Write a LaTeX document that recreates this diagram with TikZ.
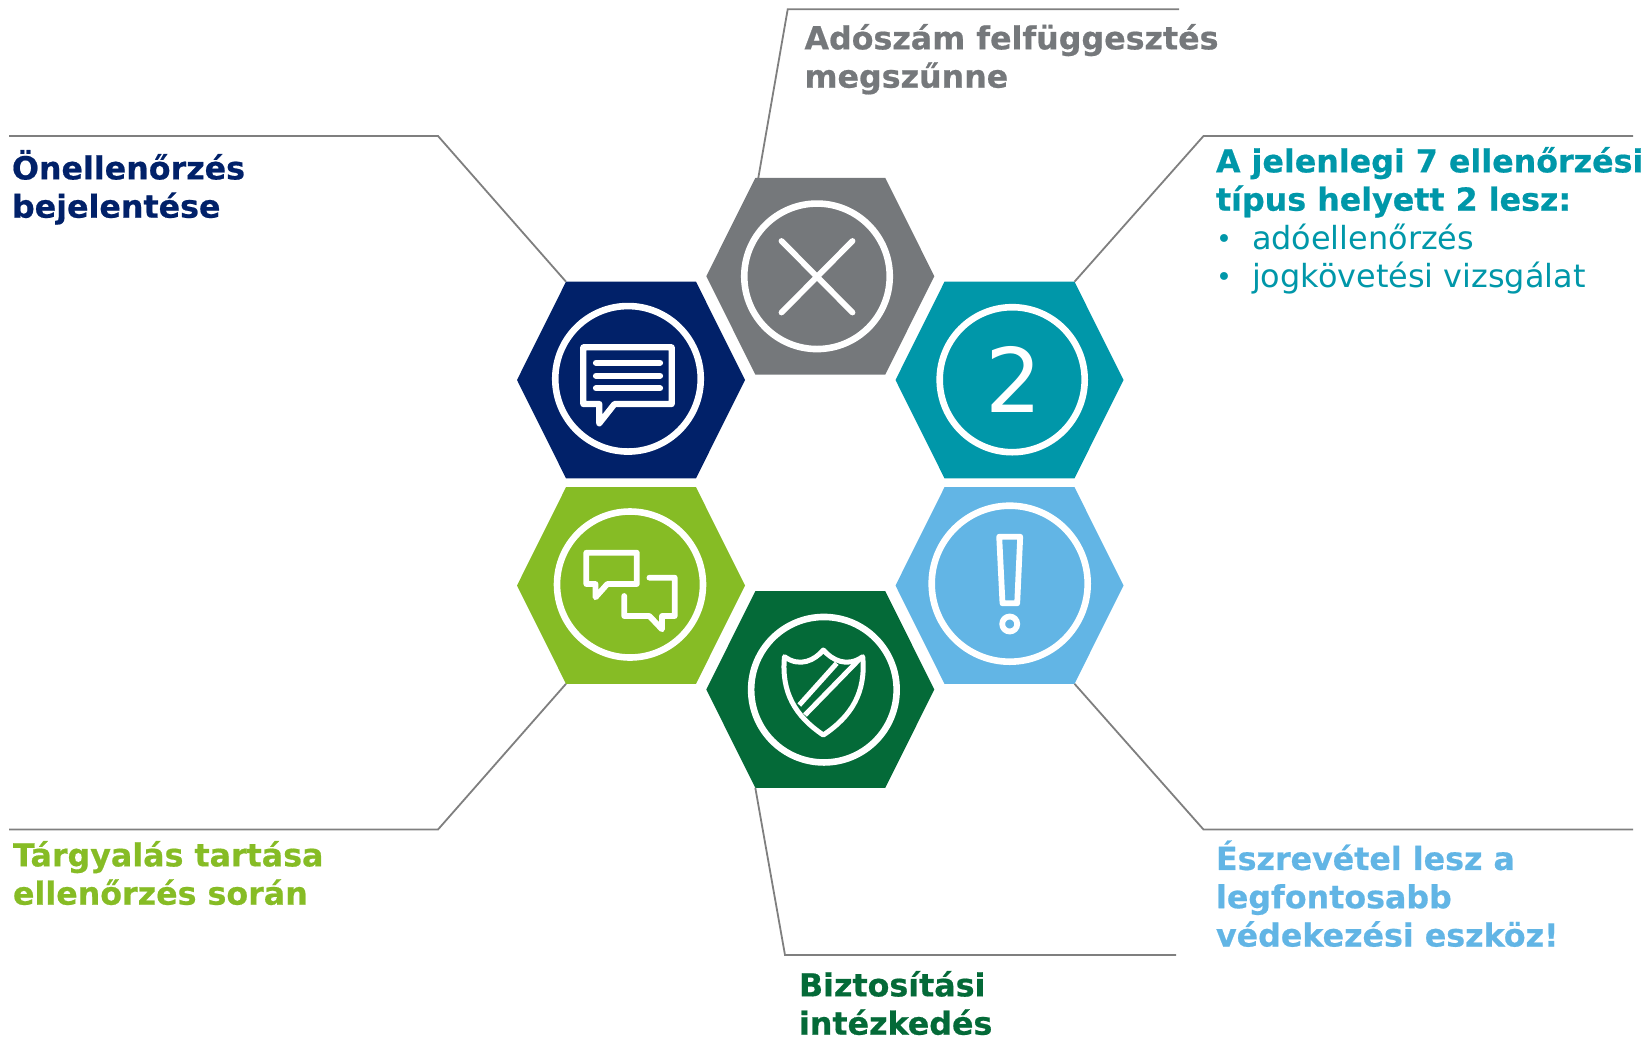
\documentclass[tikz,border=0pt]{standalone}
\usepackage{fontspec}
\setmainfont{DejaVu Sans}[BoldFeatures={FakeBold=0.6}]
\definecolor{cnavy}{HTML}{012169}
\definecolor{cgray}{HTML}{75787B}
\definecolor{cteal}{HTML}{0097A9}
\definecolor{csky}{HTML}{62B5E5}
\definecolor{clime}{HTML}{86BC25}
\definecolor{cforest}{HTML}{046A38}
\definecolor{cline}{HTML}{7F7F7F}
\tikzset{
  leader/.style={draw=cline,line width=1.8pt,line join=miter},
  ring/.style={draw=white,line width=6.6pt},
  icon/.style={draw=white,line width=5.8pt,line cap=round,line join=round},
  label/.style={anchor=north west,inner sep=0pt,outer sep=0pt,align=left,font=\fontsize{31.7}{38.3}\selectfont},
}
\newcommand{\hexa}[4]{%
  \coordinate (#1) at (#2,#3);
  \coordinate (#1-tl) at ($(#1)+(-65,-98.3)$);
  \coordinate (#1-tr) at ($(#1)+(65,-98.3)$);
  \coordinate (#1-bl) at ($(#1)+(-65,98.3)$);
  \coordinate (#1-br) at ($(#1)+(65,98.3)$);
  \fill[#4] (#1-tl) -- (#1-tr) -- ($(#1)+(114,0)$) -- (#1-br) -- (#1-bl) -- ($(#1)+(-114,0)$) -- cycle;
}
\newcommand{\blt}{\makebox[36pt][l]{\raisebox{1.5pt}{\fontsize{27}{27}\selectfont •}}}
\usetikzlibrary{calc}
\begin{document}
\begin{tikzpicture}[x=1pt,y=-1pt]
\useasboundingbox (0,0) rectangle (1651,1037);
% hexagons
\hexa{hnavy}{631}{380}{cnavy}
\hexa{hgray}{820.3}{276.2}{cgray}
\hexa{hteal}{1009.5}{380}{cteal}
\hexa{hlime}{631}{585.5}{clime}
\hexa{hsky}{1009.5}{585.5}{csky}
\hexa{hforest}{820.3}{689.5}{cforest}
% rings
\node[circle,ring,minimum size=145.5pt,inner sep=0pt] (rnavy) at (628,378.8) {};
\node[circle,ring,minimum size=145.5pt,inner sep=0pt] (rgray) at (817,276.3) {};
\node[circle,ring,minimum size=145pt,inner sep=0pt] (rteal) at (1012.2,379.7) {};
\node[circle,ring,minimum size=146pt,inner sep=0pt] (rlime) at (630,584.5) {};
\node[circle,ring,minimum size=156pt,inner sep=0pt] (rsky) at (1009.7,583.7) {};
\node[circle,ring,minimum size=145.5pt,inner sep=0pt] (rforest) at (823.9,689.7) {};
% leaders
\coordinate (e1a) at (787.7,9.3); \coordinate (e1b) at (1179,9.3);
\coordinate (e2a) at (438,136); \coordinate (e2b) at (9,136);
\coordinate (e3a) at (1203.5,136); \coordinate (e3b) at (1633,136);
\coordinate (e4a) at (438,829.5); \coordinate (e4b) at (9,829.5);
\coordinate (e5a) at (1203.5,829.5); \coordinate (e5b) at (1633,829.5);
\coordinate (e6a) at (785,955); \coordinate (e6b) at (1176,955);
\draw[leader] (hgray-tl)+(3,0) -- (e1a) -- (e1b);
\draw[leader] (hnavy-tl) -- (e2a) -- (e2b);
\draw[leader] (hteal-tr) -- (e3a) -- (e3b);
\draw[leader] (hlime-bl) -- (e4a) -- (e4b);
\draw[leader] (hsky-br) -- (e5a) -- (e5b);
\draw[leader] (hforest-bl) -- (e6a) -- (e6b);
% X icon
\draw[icon] (781.5,241) -- (852.5,312.5) (852.5,241) -- (781.5,312.5);
% speech bubble
\draw[icon,line width=6.2pt] (583.3,347.3) -- (671.7,347.3) -- (671.7,404) -- (614.5,404) -- (599.3,423.3) -- (599.3,404) -- (583.3,404) -- cycle;
\draw[icon,line width=6.2pt] (596,362.7) -- (660,362.7) (596,375.7) -- (660,375.7) (596,388.3) -- (660,388.3);
% two
\node[inner sep=0pt,text=white,font=\fontsize{89}{89}\selectfont] (two) at (1014,379.5) {2};
% dialogue
\draw[icon] (586.3,552.7) -- (636.8,552.7) -- (636.8,584) -- (607.3,584) -- (595.5,597.3) -- (595.5,584) -- (586.3,584) -- cycle;
\draw[icon] (649.4,577.7) -- (674.7,577.7) -- (674.7,616) -- (662,616) -- (662,629.3) -- (649.4,616) -- (624.2,616) -- (624.2,596);
% exclamation
\draw[icon] (999.2,536.7) -- (1020.2,536.7) -- (1017.2,603.3) -- (1002.5,603.3) -- cycle;
\draw[icon] (1009.7,624) circle (7.5);
% shield
\draw[icon,line width=5pt] (823.3,650) .. controls (815,660) and (800,668) .. (784.5,656.7)
  .. controls (781,692) and (795,716) .. (823.3,735)
  .. controls (852,716) and (866,692) .. (862.7,656.7)
  .. controls (847,668) and (832,660) .. (823.3,650) -- cycle;
\draw[icon,line width=5pt,line cap=butt] (836.7,663.3) -- (799.3,705) (859.3,659.3) -- (805,715);
% labels
\node[label,text=cgray] (t1) at (804.5,24) {\bfseries Adószám felfüggesztés\\\bfseries megszűnne};
\node[label,text=cnavy] (t2) at (12,150) {\bfseries Önellenőrzés\\\bfseries bejelentése};
\node[label,text=cteal] (t3) at (1216,147) {\bfseries A jelenlegi 7 ellenőrzési\\\bfseries típus helyett 2 lesz:\\[.6pt]\blt\fontsize{31.9}{38.3}\selectfont adóellenőrzés\\\blt\fontsize{31.9}{38.3}\selectfont jogkövetési vizsgálat};
\node[label,text=clime] (t4) at (13,841) {\bfseries Tárgyalás tartása\\\bfseries ellenőrzés során};
\node[label,text=csky] (t5) at (1216,840.5) {\bfseries Észrevétel lesz a\\\bfseries legfontosabb\\\bfseries védekezési eszköz!};
\node[label,text=cforest] (t6) at (799,971) {\bfseries Biztosítási\\\bfseries intézkedés};
\end{tikzpicture}
\end{document}
